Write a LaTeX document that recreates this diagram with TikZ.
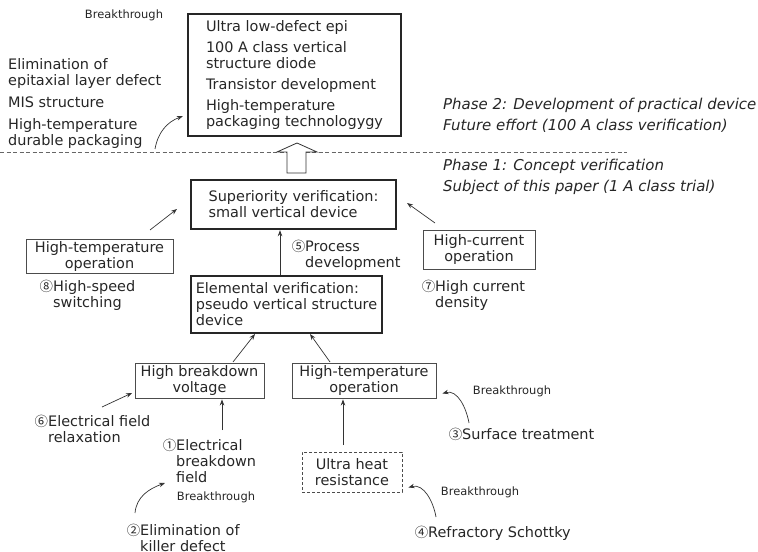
\documentclass[tikz,border=0pt]{standalone}
\usepackage{fontspec}
\setmainfont{DejaVu Sans}
\newfontfamily\cjkfont{Noto Sans CJK JP}
\usetikzlibrary{arrows.meta}
\newcommand{\cnum}[1]{\llap{{\cjkfont\fontsize{13.5}{16}\selectfont #1}}}

\begin{document}
\begin{tikzpicture}[x=1bp, y=1bp, font=\fontsize{14.5}{16}\selectfont, text=black!85,
    mainbox/.style={draw=black!85, line width=2.4bp, inner sep=3bp, align=left},
    subbox/.style={draw=black!70, line width=0.9bp, inner sep=2bp, align=center},
    note/.style={align=left, inner sep=0pt, anchor=west},
    small/.style={font=\fontsize{11.5}{13}\selectfont, inner sep=0pt},
    phase/.style={font=\fontsize{15}{21}\selectfont\itshape, align=left, anchor=west, inner sep=0pt},
    arr/.style={-{Stealth[length=6bp, width=4.5bp]}, draw=black!80, line width=0.7bp},
  ]
    \useasboundingbox (0,0) rectangle (758,-552);

    % phase separator and step-up arrow
    \draw[black!60, line width=0.7bp, dash pattern=on 4bp off 2.5bp] (0,-152.5) -- (627,-152.5);
    \draw[fill=white, draw=black!80, line width=0.8bp]
        (287,-173) -- (287,-152) -- (277,-152) -- (297,-143) -- (317,-152) -- (306,-152) -- (306,-173) -- cycle;

    % main boxes (thick)
    \node[mainbox, minimum width=213bp, minimum height=122bp] (goal) at (294.5,-75)
        {Ultra low-defect epi\\[5bp] 100 A class vertical\\structure diode\\[5bp]
         Transistor development\\[5bp] High-temperature\\packaging technologygy};
    \node[mainbox, minimum width=205bp, minimum height=49bp] (sup) at (293.5,-204.5)
        {Superiority verification:\\small vertical device};
    \node[mainbox, minimum width=191bp, minimum height=57bp] (elem) at (286.5,-304.5)
        {Elemental verification:\\pseudo vertical structure\\device};

    % requirement boxes (thin)
    \node[subbox, minimum width=147bp, minimum height=33bp] (hto1) at (99.5,-256.5) {High-temperature\\operation};
    \node[subbox, minimum width=112bp, minimum height=39bp] (hcur) at (479,-249.5) {High-current\\operation};
    \node[subbox, minimum width=129bp, minimum height=35bp] (hbd)  at (199.5,-380.5) {High breakdown\\voltage};
    \node[subbox, minimum width=144bp, minimum height=35bp] (hto2) at (364,-380.5) {High-temperature\\operation};
    \node[subbox, dash pattern=on 3bp off 2bp, minimum width=100bp, minimum height=40bp] (uhr) at (352,-472) {Ultra heat\\resistance};

    % free texts
    \node[small] (bt1) at (124,-15) {Breakthrough};
    \node[note] (elim) at (8,-103.5) {Elimination of\\epitaxial layer defect\\[6bp] MIS structure\\[6bp]
         High-temperature\\durable packaging};
    \node[phase] (ph2) at (443,-115.5) {Phase 2: Development of practical device\\Future effort (100 A class verification)};
    \node[phase] (ph1) at (443,-176.5) {Phase 1: Concept verification\\Subject of this paper (1 A class trial)};

    \node[note] (n5) at (305,-255) {\cnum{⑤}Process\\development};
    \node[note] (n8) at (53,-295.5) {\cnum{⑧}High-speed\\switching};
    \node[note] (n7) at (435,-295) {\cnum{⑦}High current\\density};
    \node[note] (n6) at (48,-429) {\cnum{⑥}Electrical field\\relaxation};
    \node[note] (n1) at (176,-461) {\cnum{①}Electrical\\breakdown\\field};
    \node[note] (n2) at (140,-538) {\cnum{②}Elimination of\\killer defect};
    \node[note] (n3) at (462,-434) {\cnum{③}Surface treatment};
    \node[note] (n4) at (428,-533) {\cnum{④}Refractory Schottky};

    \node[small] (bt2) at (216,-497) {Breakthrough};
    \node[small] (bt3) at (512,-391) {Breakthrough};
    \node[small] (bt4) at (480,-492) {Breakthrough};

    % arrow end points
    \coordinate (a1) at (155,-149);
    \coordinate (a2) at (150,-230);
    \coordinate (a3) at (177,-209);
    \coordinate (a4) at (435,-223);
    \coordinate (a5) at (407,-203);
    \coordinate (a6) at (233,-362);
    \coordinate (a7) at (255,-334);
    \coordinate (a8) at (330,-362);
    \coordinate (a9) at (310,-334);
    \coordinate (a10) at (102,-407);
    \coordinate (a11) at (132,-393);
    \coordinate (a12) at (222,-430);
    \coordinate (a13) at (343,-445);
    \coordinate (a14) at (135,-513);
    \coordinate (a15) at (165,-483);
    \coordinate (a16) at (469,-423);
    \coordinate (a17) at (436,-517);

    % straight arrows
    \draw[arr] ([xshift=-6.5bp]elem.north) -- ([xshift=-6.5bp]elem.north |- sup.south);
    \draw[arr] (a2) -- (a3);
    \draw[arr] (a4) -- (a5);
    \draw[arr] (a6) -- (a7);
    \draw[arr] (a8) -- (a9);
    \draw[arr] (a10) -- (a11);
    \draw[arr, shorten >=1bp] (a12) -- (a12 |- hbd.south);
    \draw[arr, shorten >=1bp] (a13) -- (a13 |- hto2.south);

    % breakthrough arrows (curved)
    \draw[arr] (a1) to[out=80, in=200] ([xshift=-4bp, yshift=21bp]goal.south west);
    \draw[arr] (a14) to[out=85, in=200] (a15);
    \draw[arr] (a16) to[out=100, in=15] ([xshift=6bp, yshift=5bp]hto2.south east);
    \draw[arr] (a17) to[out=100, in=15] ([xshift=6bp, yshift=5bp]uhr.south east);
\end{tikzpicture}
\end{document}
